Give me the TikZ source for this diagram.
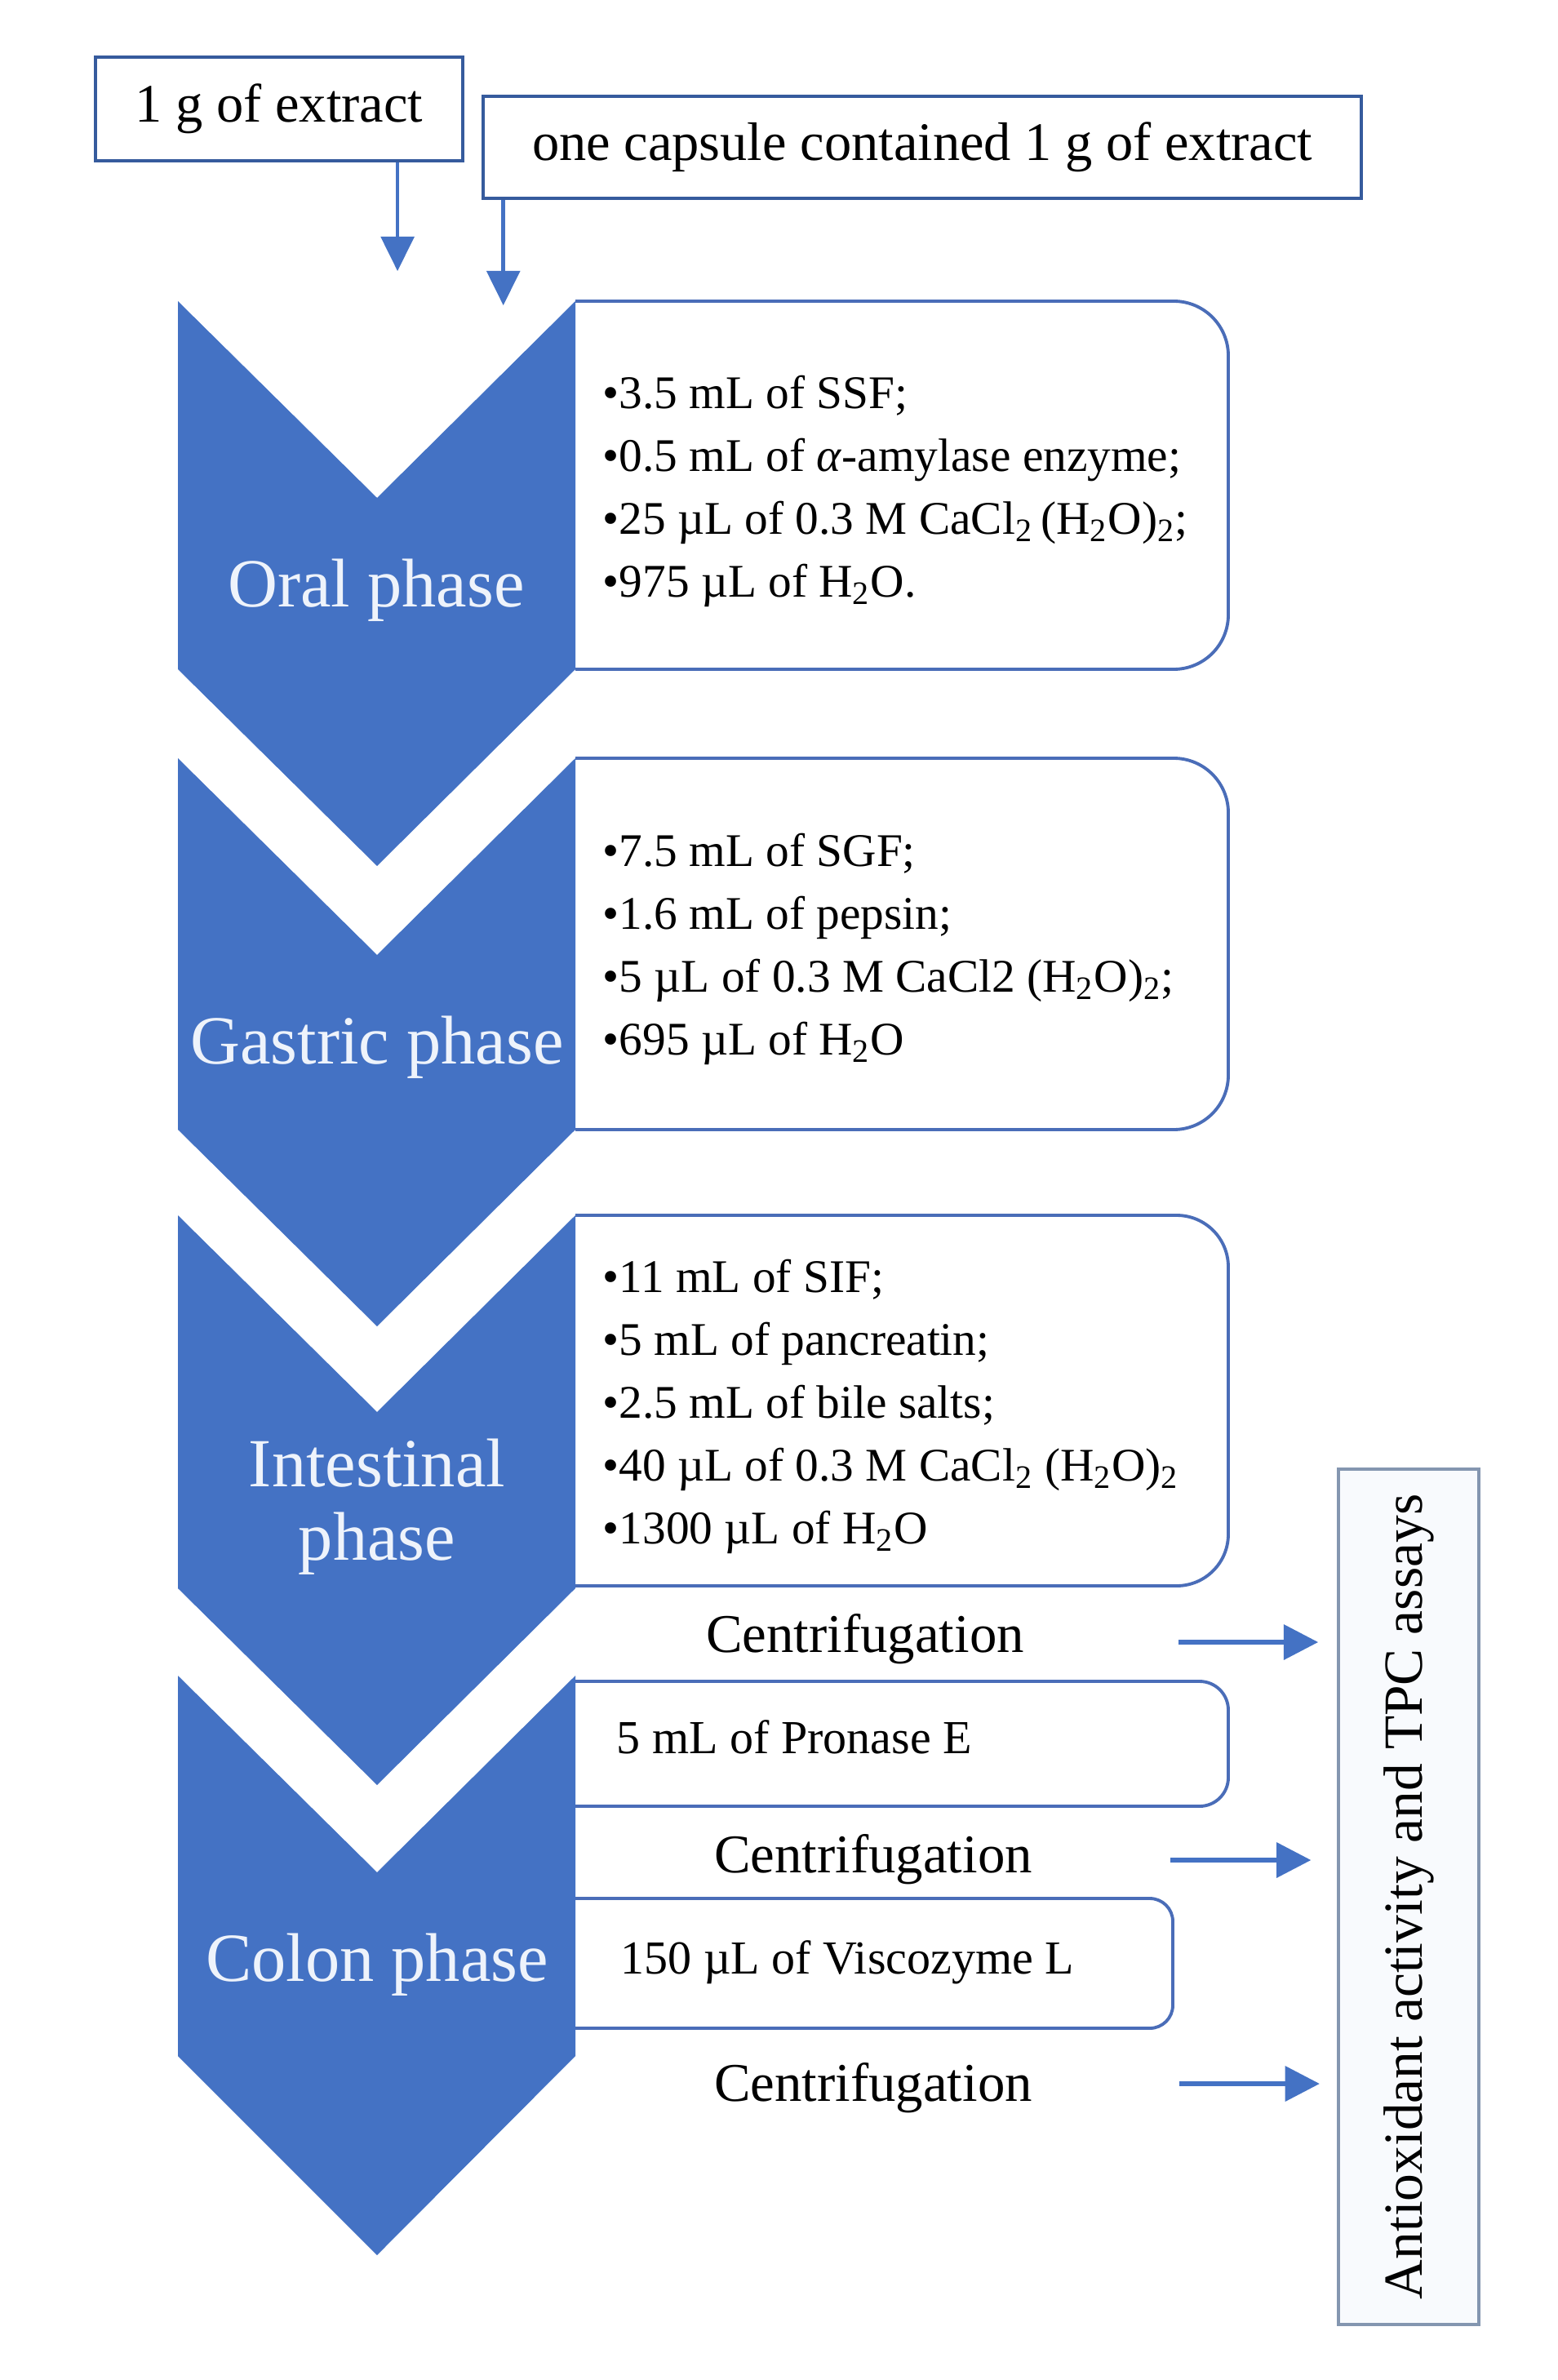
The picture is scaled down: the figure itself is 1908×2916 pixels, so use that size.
\documentclass[tikz,border=0pt]{standalone}
\usepackage{fontspec}
\setmainfont{Liberation Serif}
\usetikzlibrary{arrows.meta}
\definecolor{oblue}{HTML}{4472C4}
\definecolor{bord}{HTML}{4A6DB8}
\definecolor{phasetext}{HTML}{EEF3FB}
\definecolor{antbord}{HTML}{8496B0}
\definecolor{antfill}{HTML}{F8FAFD}
\newcommand{\sbs}[1]{\textsubscript{#1}}
\newcommand{\bul}{•}
\begin{document}
\begin{tikzpicture}[x=0.01cm,y=-0.01cm,
  chev/.style={fill=oblue,draw=none},
  phase/.style={text=phasetext,font=\fontsize{24}{25.6}\selectfont,align=center,inner sep=0pt},
  stepbox/.style={draw=bord,line width=1.1pt,fill=white},
  items/.style={anchor=west,align=left,font=\fontsize{16.3}{21.9}\selectfont,inner sep=0pt},
  single/.style={anchor=base west,font=\fontsize{16.5}{18}\selectfont,inner sep=0pt},
  cent/.style={anchor=base,font=\fontsize{19}{20}\selectfont,inner sep=0pt},
  topbox/.style={draw=oblue!80!black,line width=1.2pt,fill=white,font=\fontsize{18.9}{20}\selectfont,inner sep=0pt},
  arr/.style={draw=oblue,line width=1.3pt,-{Triangle[width=11.5pt,length=12pt]}},
  harr/.style={draw=oblue,line width=1.7pt,-{Triangle[width=12pt,length=12pt]}}]
\useasboundingbox (0,0) rectangle (1908,2916);
\fill[white] (0,0) rectangle (1908,2916);

% top boxes
\node[topbox,minimum width=4.5cm,minimum height=1.27cm] (ext) at (342,133.5) {1 g of extract};
\node[topbox,minimum width=10.76cm,minimum height=1.25cm] (cap) at (1130,180.5) {one capsule contained 1 g of extract};
\draw[arr] ([xshift=1.45cm]ext.south) -- ++(0,133);
\draw[arr] ([xshift=-5.13cm]cap.south) -- ++(0,129);

% step boxes (drawn before chevrons)
\draw[stepbox,rounded corners=19pt] (705,369) -- (1505,369) -- (1505,820) -- (705,820);
\draw[stepbox,rounded corners=19pt] (705,929) -- (1505,929) -- (1505,1384) -- (705,1384);
\draw[stepbox,rounded corners=18pt] (705,1489) -- (1505,1489) -- (1505,1943) -- (705,1943);
\draw[stepbox,rounded corners=10pt] (705,2060) -- (1505,2060) -- (1505,2213) -- (705,2213);
\draw[stepbox,rounded corners=8pt] (705,2326) -- (1437,2326) -- (1437,2485) -- (705,2485);

% chevrons
\fill[chev] (218,369) -- (462,610) -- (705,369) -- (705,820) -- (462,1061) -- (218,820) -- cycle;
\fill[chev] (218,929) -- (462,1170) -- (705,929) -- (705,1384) -- (462,1625) -- (218,1384) -- cycle;
\fill[chev] (218,1489) -- (462,1730) -- (705,1489) -- (705,1946) -- (462,2187) -- (218,1946) -- cycle;
\fill[chev] (218,2053) -- (462,2294) -- (705,2053) -- (705,2519) -- (462,2763) -- (218,2519) -- cycle;

% phase labels
\node[phase,anchor=base] (oral) at (461,744) {Oral phase};
\node[phase,anchor=base] (gastric) at (462,1303) {Gastric phase};
\node[phase,anchor=center] (intest) at (462,1846) {Intestinal\\phase};
\node[phase,anchor=base] (colon) at (462,2427) {Colon phase};

% items
\node[items] (oralitems) at (738,602) {\bul3.5 mL of SSF;\\
\bul0.5 mL of \textit{α}-amylase enzyme;\\
\bul25 µL of 0.3 M CaCl\sbs{2}\,(H\sbs{2}O)\sbs{2};\\
\bul975 µL of H\sbs{2}O.};
\node[items] (gastitems) at (738,1163) {\bul7.5 mL of SGF;\\
\bul1.6 mL of pepsin;\\
\bul5 µL of 0.3 M CaCl2 (H\sbs{2}O)\sbs{2};\\
\bul695 µL of H\sbs{2}O};
\node[items] (intitems) at (738,1723) {\bul11 mL of SIF;\\
\bul5 mL of pancreatin;\\
\bul2.5 mL of bile salts;\\
\bul40 µL of 0.3 M CaCl\sbs{2} (H\sbs{2}O)\sbs{2}\\
\bul1300 µL of H\sbs{2}O};
\node[single] (pron) at (755,2148) {5 mL of Pronase E};
\node[single] (visc) at (760,2418) {150 µL of Viscozyme L};

% centrifugation
\node[cent] (c1) at (1060,2024) {Centrifugation};
\node[cent] (c2) at (1070,2294) {Centrifugation};
\node[cent] (c3) at (1070,2574) {Centrifugation};

% antioxidant box
\node[draw=antbord,fill=antfill,line width=1.1pt,rotate=90,minimum width=10.48cm,minimum height=1.72cm,
      font=\fontsize{19.2}{20}\selectfont,inner sep=0pt] (ant) at (1726,2324) {Antioxidant activity and TPC assays};

\coordinate (a1) at (1444,2012);
\coordinate (a2) at (1434,2279);
\coordinate (a3) at (1445,2553);
\draw[harr,shorten >=6.5pt] (a1) -- (a1 -| ant.north);
\draw[harr,shorten >=9pt] (a2) -- (a2 -| ant.north);
\draw[harr,shorten >=6pt] (a3) -- (a3 -| ant.north);
\end{tikzpicture}
\end{document}
